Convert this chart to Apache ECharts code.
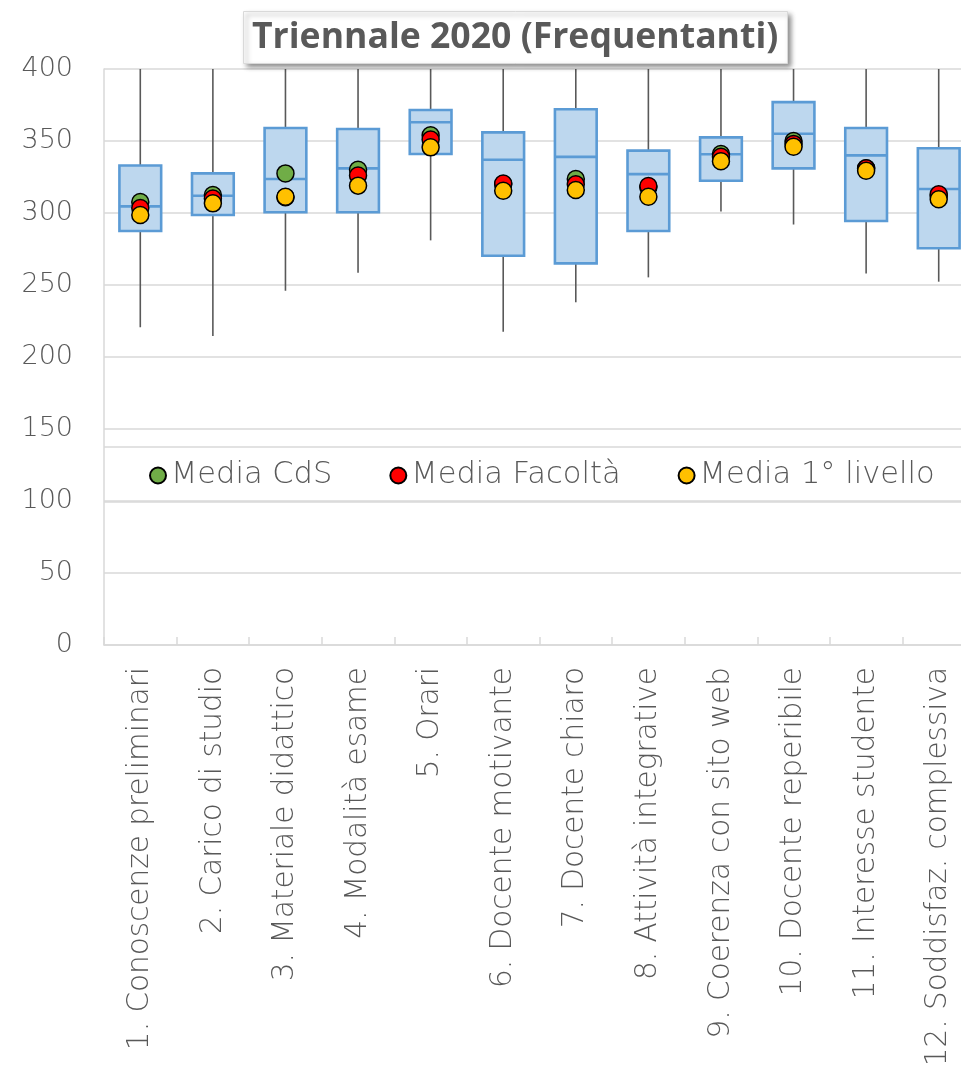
<!DOCTYPE html>
<html>
<head>
<meta charset="utf-8">
<script src="https://cdn.jsdelivr.net/npm/echarts@6/dist/echarts.min.js"></script>
<style>
html,body{margin:0;padding:0;background:#fff;}
#chart{width:961px;height:1066px;}
</style>
</head>
<body>
<div id="chart"></div>
<script>
var categories = ['1. Conoscenze preliminari','2. Carico di studio','3. Materiale didattico','4. Modalità esame','5. Orari','6. Docente motivante','7. Docente chiaro','8. Attività integrative','9. Coerenza con sito web','10. Docente reperibile','11. Interesse studente','12. Soddisfaz. complessiva'];
var whiskerLow = [220.6, 214.6, 246, 258.5, 281, 217.6, 238, 255.3, 301, 292, 258, 252.3];
var q1 = [287.5, 298.6, 300.5, 300.5, 341, 270.3, 265, 287.5, 322.4, 331, 294.4, 275.5];
var median = [304.6, 312, 323.6, 331, 363, 337, 339, 327, 340.8, 355, 340, 316.7];
var q3 = [333, 327.5, 359, 358.3, 371.5, 356, 372, 343.3, 352.5, 377, 359, 345];
var whiskerHigh = [400, 400, 400, 400, 400, 400, 400, 400, 400, 400, 400, 400];
var mediaCdS = [307.6, 312.5, 327.5, 330, 354, 320, 323.6, 318, 341, 350, 331, 312];
var mediaFacolta = [303.5, 310, 311, 326, 351, 320.5, 320, 318.7, 339, 348, 331, 313];
var mediaPrimoLivello = [298.6, 306.7, 311.3, 319, 345.6, 315.5, 316, 311.3, 336, 346, 329.4, 309.5];
var yTicks = {min: 0, max: 400, interval: 50};
var titleText = 'Triennale 2020 (Frequentanti)';

var TFONT = '"Open Sans", sans-serif';
var FONT = '"DejaVu Sans", sans-serif';
var TXT = '#595959';
var GRID = '#d9d9d9';

var boxData = categories.map(function(c, i){
  return [i, whiskerLow[i], q1[i], median[i], q3[i], whiskerHigh[i]];
});

var chart = echarts.init(document.getElementById('chart'), null, {renderer: 'canvas'});

function meanSeries(name, data, color){
  return {
    name: name,
    type: 'scatter',
    data: data,
    symbol: 'circle',
    symbolSize: 17,
    z: 5,
    itemStyle: {color: color, borderColor: '#000', borderWidth: 1.5, opacity: 1},
    emphasis: {disabled: true}
  };
}

var option = {
  animation: false,
  backgroundColor: '#fff',
  title: {
    text: titleText,
    left: 243,
    top: 11,
    padding: [4, 9, 4, 9],
    backgroundColor: '#fff',
    borderColor: '#d9d9d9',
    borderWidth: 1,
    shadowColor: 'rgba(0,0,0,0.45)',
    shadowBlur: 5,
    shadowOffsetX: 3,
    shadowOffsetY: 3,
    textStyle: {fontFamily: TFONT, fontSize: 35.6, fontWeight: 'bold', color: TXT, lineHeight: 45}
  },
  legend: {
    data: ['Media CdS', 'Media Facoltà', 'Media 1° livello'],
    left: 144,
    top: 455,
    icon: 'circle',
    itemWidth: 16,
    itemHeight: 16,
    itemGap: 57,
    textStyle: {fontFamily: FONT, fontSize: 30.5, fontWeight: 200, color: TXT, padding: [0, 0, 0, 0]}
  },
  graphic: [
    {type: 'line', shape: {x1: 104, y1: 447, x2: 961, y2: 447}, style: {stroke: GRID, lineWidth: 1.5}, z: 1},
    {type: 'line', shape: {x1: 104, y1: 502, x2: 961, y2: 502}, style: {stroke: GRID, lineWidth: 1.5}, z: 1}
  ],
  grid: {left: 104, width: 871, top: 69, height: 576, containLabel: false, outerBoundsMode: 'none'},
  xAxis: {
    type: 'category',
    data: categories,
    boundaryGap: true,
    axisLine: {show: true, lineStyle: {color: GRID, width: 1.5}},
    axisTick: {show: true, inside: true, length: 8, lineStyle: {color: GRID, width: 1.5}},
    axisLabel: {interval: 0, rotate: 90, margin: 22, fontFamily: FONT, fontSize: 29.5, fontWeight: 200, color: TXT},
    splitLine: {show: false}
  },
  yAxis: {
    type: 'value',
    min: yTicks.min,
    max: yTicks.max,
    interval: yTicks.interval,
    axisLine: {show: true, lineStyle: {color: GRID, width: 1.5}},
    axisTick: {show: false},
    axisLabel: {margin: 31, fontFamily: FONT, fontSize: 27, fontWeight: 200, color: TXT},
    splitLine: {show: true, lineStyle: {color: GRID, width: 1.5}}
  },
  series: [
    {
      name: 'box',
      type: 'custom',
      data: boxData,
      encode: {x: 0, y: [1, 2, 3, 4, 5]},
      z: 3,
      renderItem: function(params, api){
        var x = api.value(0);
        var pLow = api.coord([x, api.value(1)]);
        var pQ1 = api.coord([x, api.value(2)]);
        var pMed = api.coord([x, api.value(3)]);
        var pQ3 = api.coord([x, api.value(4)]);
        var pHigh = api.coord([x, api.value(5)]);
        var bw = api.size([1, 0])[0] * 0.575;
        var cx = pMed[0];
        return {
          type: 'group',
          children: [
            {type: 'line', shape: {x1: cx, y1: pLow[1], x2: cx, y2: pHigh[1]}, style: {stroke: '#595959', lineWidth: 1.6}},
            {type: 'rect', shape: {x: cx - bw / 2, y: pQ3[1], width: bw, height: pQ1[1] - pQ3[1]}, style: {fill: '#bdd7ee', stroke: '#5b9bd5', lineWidth: 2.6}},
            {type: 'line', shape: {x1: cx - bw / 2, y1: pMed[1], x2: cx + bw / 2, y2: pMed[1]}, style: {stroke: '#5b9bd5', lineWidth: 2.6}}
          ]
        };
      }
    },
    meanSeries('Media CdS', mediaCdS, '#70ad47'),
    meanSeries('Media Facoltà', mediaFacolta, '#ff0000'),
    meanSeries('Media 1° livello', mediaPrimoLivello, '#ffc000')
  ]
};
chart.setOption(option);
</script>
</body>
</html>
